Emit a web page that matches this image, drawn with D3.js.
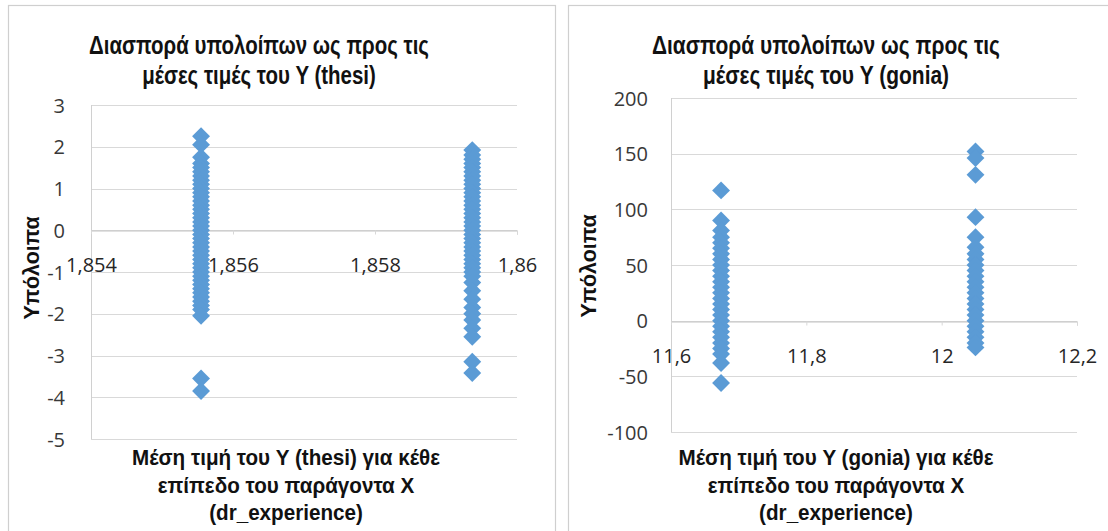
<!DOCTYPE html>
<html><head><meta charset="utf-8">
<script src="https://cdn.jsdelivr.net/npm/d3@7/dist/d3.min.js"></script>
<style>html,body{margin:0;padding:0;background:#fff;}svg{display:block;}</style>
</head><body>
<svg id="c" width="1108" height="531"></svg>
<script>
// ---------- DATA ----------
const thesiTitle = ["Διασπορά υπολοίπων ως προς τις", "μέσες τιμές του Y (thesi)"];
const thesiXTitle = ["Μέση τιμή του Y (thesi) για κέθε", "επίπεδο του παράγοντα X", "(dr_experience)"];
const goniaTitle = ["Διασπορά υπολοίπων ως προς τις", "μέσες τιμές του Y (gonia)"];
const goniaXTitle = ["Μέση τιμή του Y (gonia) για κέθε", "επίπεδο του παράγοντα X", "(dr_experience)"];
const yTitle = "Υπόλοιπα";

const thesiXTicks = [1.854, 1.856, 1.858, 1.86];
const thesiYTicks = [3, 2, 1, 0, -1, -2, -3, -4, -5];
const goniaXTicks = [11.6, 11.8, 12, 12.2];
const goniaYTicks = [200, 150, 100, 50, 0, -50, -100];

const thesiLevels = [1.85555, 1.85937];
const thesiResid1 = [2.25, 2.05, 1.75, 1.6, 1.5, 1.4, 1.3, 1.2, 1.1, 1.0, 0.9, 0.8, 0.7, 0.6, 0.5, 0.4, 0.3, 0.2, 0.1, 0.0,
  -0.1, -0.2, -0.3, -0.4, -0.5, -0.6, -0.7, -0.8, -0.9, -1.0, -1.1, -1.2, -1.3, -1.4, -1.5, -1.6, -1.7, -1.8, -1.9, -2.05, -3.55, -3.85];
const thesiResid2 = [1.92, 1.8, 1.7, 1.6, 1.5, 1.4, 1.3, 1.2, 1.1, 1.0, 0.9, 0.8, 0.7, 0.6, 0.5, 0.4, 0.3, 0.2, 0.1, 0.0,
  -0.1, -0.2, -0.3, -0.4, -0.5, -0.6, -0.7, -0.8, -0.9, -1.0, -1.1, -1.25, -1.45, -1.65, -1.85, -2.0, -2.15, -2.35, -2.55, -3.15, -3.42];

const goniaLevels = [11.674, 12.05];
const goniaResid1 = [117, 90, 81, 75, 70, 65, 60, 55, 50, 45, 40, 35, 30, 25, 20, 15, 10, 5, 0, -5, -10, -15, -20, -25, -30, -38, -56];
const goniaResid2 = [152, 146, 131, 93, 75, 66, 60, 55, 50, 45, 40, 35, 30, 25, 20, 15, 10, 5, 0, -5, -10, -15, -20, -24];

// ---------- RENDER ----------
const FONT = "'Open Sans', 'Noto Sans', sans-serif";
const TFONT = "'Liberation Sans', Arial, sans-serif";
const BLUE = "#5b9bd5";
const svg = d3.select("#c");
svg.append("rect").attr("width", 1108).attr("height", 531).attr("fill", "#fff");

const fmt = d3.formatLocale({decimal: ",", thousands: ".", grouping: [3], currency: ["", "€"], minus: "-"}).format("~g");

function measure(str, font, weight, size) {
  const t = svg.append("text").attr("font-family", font).attr("font-weight", weight)
    .attr("font-size", size).text(str);
  const w = t.node().getComputedTextLength();
  t.remove();
  return w;
}

// Multi-line text, horizontally condensed so the first line has the target width
function lines(g, arr, size, firstW, cx, y0, lh) {
  const k = Math.min(1, firstW / measure(arr[0], TFONT, 700, size));
  const t = g.append("text").attr("font-family", TFONT).attr("font-weight", 700).attr("font-size", size)
    .attr("text-anchor", "middle").attr("fill", "#111");
  arr.forEach((s, i) => {
    t.append("tspan").attr("x", cx).attr("y", y0 + i * lh)
      .attr("textLength", measure(s, TFONT, 700, size) * k).attr("lengthAdjust", "spacingAndGlyphs").text(s);
  });
}

function panel(o) {
  const g = svg.append("g");
  g.append("rect").attr("x", o.frame[0] + 0.5).attr("y", 5.5)
    .attr("width", o.frame[1] - o.frame[0]).attr("height", 600)
    .attr("fill", "#fff").attr("stroke", "#cfcfcf").attr("stroke-width", 1.2);

  const x = d3.scaleLinear().domain(o.xDomain).range(o.xRange);
  const y = d3.scaleLinear().domain(o.yDomain).range(o.yRange);

  g.append("g").selectAll("line").data(o.yTicks).join("line")
    .attr("x1", o.xRange[0]).attr("x2", o.xRange[1])
    .attr("y1", d => Math.round(y(d)) + 0.5).attr("y2", d => Math.round(y(d)) + 0.5)
    .attr("stroke", "#d9d9d9").attr("stroke-width", 1);

  g.append("line").attr("x1", o.xRange[0] + 0.5).attr("x2", o.xRange[0] + 0.5)
    .attr("y1", o.yRange[1]).attr("y2", o.yRange[0])
    .attr("stroke", "#d0d0d0");

  const yAx = d3.axisLeft(y).tickValues(o.yTicks).tickFormat(fmt).tickSize(0).tickPadding(0);
  const ya = g.append("g").attr("transform", `translate(${o.yLabelX},0)`).call(yAx);
  ya.select(".domain").remove();
  ya.selectAll("text").attr("font-family", FONT).attr("font-size", o.tickSize).attr("fill", "#383838")
    .attr("dy", "0.36em");

  const y0 = Math.round(y(0)) + 0.5;
  const xAx = d3.axisBottom(x).tickValues(o.xTicks).tickFormat(fmt).tickSize(4).tickPadding(o.xLabelPad);
  const xa = g.append("g").attr("transform", `translate(0,${y0})`).call(xAx);
  xa.select(".domain").attr("stroke", "#c4c4c4");
  xa.selectAll(".tick line").attr("stroke", "#d8d8d8");
  xa.selectAll("text").attr("font-family", FONT).attr("font-size", o.tickSize).attr("fill", "#262626");

  const pts = [];
  o.levels.forEach((lv, i) => o.resid[i].forEach(r => pts.push([lv, r])));
  const diamond = d3.symbol().type(d3.symbolSquare).size(o.mSize);
  g.append("g").selectAll("path").data(pts).join("path")
    .attr("d", diamond)
    .attr("transform", d => `translate(${x(d[0])},${y(d[1])}) rotate(45)`)
    .attr("fill", BLUE);

  lines(g, o.title, 25, o.titleW, o.titleX, o.titleY, 30);
  lines(g, o.xTitle, 22.5, o.xTitleW, o.xTitleX, o.xTitleY, 27.5);

  const ys = 22;
  const yl = Math.min(103, measure(yTitle, TFONT, 700, ys));
  g.append("text").attr("font-family", TFONT).attr("font-weight", 700).attr("font-size", ys)
    .attr("text-anchor", "middle").attr("fill", "#111")
    .attr("transform", `translate(${o.yTitleX},${o.yTitleY}) rotate(-90)`)
    .attr("dy", "0.35em").attr("textLength", yl).attr("lengthAdjust", "spacingAndGlyphs").text(yTitle);
}

panel({
  frame: [8, 555],
  xDomain: [1.854, 1.86], xRange: [91, 517],
  yDomain: [-5, 3], yRange: [439, 105],
  xTicks: thesiXTicks, yTicks: thesiYTicks,
  levels: thesiLevels, resid: [thesiResid1, thesiResid2],
  yLabelX: 65, xLabelPad: 23, tickSize: 20, mSize: 160,
  title: thesiTitle, titleX: 259, titleY: 54, titleW: 340,
  xTitle: thesiXTitle, xTitleX: 286, xTitleY: 465, xTitleW: 308,
  yTitleX: 31, yTitleY: 268
});

panel({
  frame: [568, 1130],
  xDomain: [11.6, 12.2], xRange: [671, 1077],
  yDomain: [-100, 200], yRange: [432, 98],
  xTicks: goniaXTicks, yTicks: goniaYTicks,
  levels: goniaLevels, resid: [goniaResid1, goniaResid2],
  yLabelX: 648, xLabelPad: 23, tickSize: 20, mSize: 160,
  title: goniaTitle, titleX: 826, titleY: 54, titleW: 348,
  xTitle: goniaXTitle, xTitleX: 836, xTitleY: 465, xTitleW: 315,
  yTitleX: 588, yTitleY: 266
});
</script>
</body></html>
